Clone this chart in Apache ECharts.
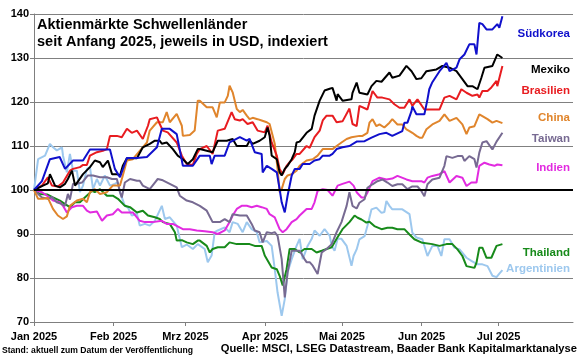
<!DOCTYPE html>
<html><head><meta charset="utf-8">
<script src="https://cdn.jsdelivr.net/npm/echarts/dist/echarts.min.js"></script>
<style>html,body{margin:0;padding:0;background:#fff}#c{width:580px;height:358px}</style>
</head><body><div id="c"></div>
<script>
// x values: days since 1 Jan 2025; y values: index (start = 100)
const monthDays = [0, 31, 59, 90, 120, 151, 181];
const monthLabels = ['Jan 2025','Feb 2025','Mrz 2025','Apr 2025','Mai 2025','Jun 2025','Jul 2025'];
const yTicks = [70, 80, 90, 100, 110, 120, 130, 140];

const suedkorea = [[0,100],[3.1,102],[6.2,107],[10,107.5],[12.1,104.8],[15.2,106.7],[19.1,106.7],[21.8,109.2],[25.7,109.2],[29.6,109.2],[31.5,104.8],[33.5,102.9],[36.2,107.3],[40.1,107.3],[44,107.5],[47.9,109.7],[49.8,113.9],[52.9,113.9],[55.6,112.7],[58,105.5],[61.9,105.5],[64.6,107.8],[68.5,107.8],[69.2,105.9],[70.4,107.8],[74.3,107.8],[76.2,110.8],[80.2,112],[82.9,111.2],[84,111.6],[86,108.6],[88.7,108.2],[89.1,104],[90.7,105.5],[92.6,104.8],[94.6,104],[95.7,100.2],[96.5,97.2],[97.7,94.9],[98.8,98.7],[100.4,103.3],[101.6,104.8],[103.5,104.8],[104.7,105.9],[107.4,105.9],[109.3,106.7],[111.3,107],[112.5,107.8],[115.2,107.8],[116.3,108.2],[117.9,109.3],[120.2,109.7],[122.9,110],[125.7,111],[128.8,111.1],[131.5,111.9],[134.6,112.7],[137.3,113],[139.6,112.3],[143.5,113.4],[144.3,115.3],[145.5,115.3],[147.1,118],[147.4,119],[149,117.2],[152.1,117.2],[153.3,120.6],[154,122.9],[155.2,124.5],[158,127],[160.7,128.9],[161.9,127],[164.6,127.8],[165.8,129.7],[167.7,130.8],[169.6,133.1],[171.6,133.1],[172.4,130.8],[173.5,138],[174.7,137.7],[176.3,136.5],[178.6,136.5],[180.5,137.7],[181.3,136.9],[182.5,139.5]];
const mexiko = [[0,100],[3.5,101],[5.4,101.5],[6.2,103.6],[8.2,101],[10.1,100.6],[12.1,101.4],[13.2,102.5],[14.8,104.4],[16,101],[19.1,103.6],[21.8,105.2],[23.7,106.7],[25.7,106.3],[26.8,105.2],[28.8,106.7],[30.4,103.6],[32.3,103.6],[33.5,103.3],[34.6,105.5],[36.2,107.2],[40.1,107.2],[42.4,109.7],[45.1,110.5],[47.1,111.2],[49,111.2],[49.8,110.5],[51.7,110.8],[54.1,109.3],[56,107.8],[58,107],[59.9,105.9],[61.9,107],[63.8,109.3],[64.6,109.3],[69.6,108.6],[71.6,111.2],[75.1,111.2],[77.4,111.6],[79,110],[82.9,110],[84,111.2],[85.2,110.5],[87.9,111.2],[89.9,112],[91,114.2],[91.8,112.3],[92.6,107.8],[94.6,107],[95.7,104],[96.5,103.3],[97.7,104.8],[98.8,105.5],[100.4,107],[101.6,108.6],[102.3,110.8],[103.5,111],[106.2,113],[108.2,113.9],[109.3,116.9],[111.3,120.3],[113.2,122.6],[115.2,123],[116.3,123.2],[117.9,120.3],[118.3,121.8],[120.2,120.3],[123.7,120.6],[124.1,122.1],[125.7,124.4],[126.8,122.1],[129.9,121.7],[131.5,123.6],[133.4,124.8],[135.4,124.6],[138.5,126.7],[139.6,125.5],[142.4,126],[145.1,128.2],[147.1,127],[149,125.2],[150.9,125.4],[152.9,127],[156.8,127.4],[159.1,128.2],[161.9,127.8],[164.6,127],[166.9,125.2],[168.9,123.6],[170.8,123.6],[172.8,122.9],[174.3,125.5],[175.5,127.8],[178.6,128.2],[180.5,130.8],[182.5,130]];
const brasilien = [[0,100],[3.1,101],[5.4,102.9],[7,101],[9.3,100.8],[11.3,101.7],[14,104.4],[15.2,104.8],[17.9,105.2],[19.1,105.7],[20.6,105.7],[21.8,107.8],[24.5,108.6],[26.8,108.9],[28.4,109.3],[29.6,112.3],[32.3,112.3],[34.2,112],[36.2,113.9],[38.1,113],[40.1,113.5],[42.4,111.6],[44.4,114.6],[45.1,116.1],[47.9,116.5],[49,115],[50.2,113.5],[52.1,113.1],[55.6,110.8],[57.6,107.8],[59.5,105.9],[61.9,105.7],[63.4,108.2],[64.6,109.3],[67.3,110],[69.6,108.2],[71.6,113.5],[74.3,113.9],[77,117.7],[78.2,116.1],[80.2,115.8],[81.3,116.1],[83.2,115],[85.2,115.4],[87.1,113.5],[89.9,113.1],[91,114.6],[92.6,110.8],[94.6,107.8],[95.7,104.8],[96.9,103.6],[98.4,105.5],[99.6,106.3],[100.8,107],[102.3,108.2],[103.5,108.2],[106.2,110],[107.4,109.6],[109.3,112],[111.3,113.5],[112.5,115.8],[114,116.9],[116.3,116.9],[117.9,115.4],[120.2,115.6],[122.9,118.5],[124.1,115],[125.7,114.5],[126.8,119.1],[129.9,118.3],[131.9,122.5],[133.8,121],[135.7,121],[138.5,120.6],[140.4,119.5],[142.4,118.7],[144.3,118.7],[146.3,120.6],[147.4,119.1],[149.4,120.6],[152.1,118.3],[155.2,118.3],[158,118.3],[159.9,121],[161.9,121.4],[164.6,120.6],[166.5,122.9],[168.5,122.1],[170.8,121.4],[172.8,121.7],[173.5,121],[174.7,122.5],[176.7,122.5],[178.2,123.3],[180.2,124.8],[180.5,123.6],[182.5,128.2]];
const china = [[0,100],[1.6,98],[3.5,98],[5.4,98.2],[7.4,95.7],[9.3,94.2],[11.3,93.4],[12.8,94],[14,96.4],[16.7,97.6],[19.1,98],[20.6,97.2],[21.8,99.5],[23.7,100.2],[25.7,99.1],[28.4,99.5],[30.7,101],[33.5,101],[34.6,103.3],[36.2,106.7],[38.5,107],[41.2,108.9],[44,110.8],[45.1,113.5],[47.9,115.4],[50.2,115.4],[51.7,117.7],[52.9,115.4],[55.6,117.3],[57.6,114.6],[58,112.3],[60.7,112.5],[62.6,113.5],[63.8,120.3],[64.6,120.3],[67.3,118.8],[69.6,118.8],[71.2,116.5],[72.4,119.9],[74.3,119.9],[75.5,121.4],[76.2,123.7],[77.4,122.2],[79,118.4],[80.2,117.7],[81.3,118.2],[82.9,116.9],[84,116.1],[85.2,116.4],[87.1,116.1],[88.7,115.8],[90.7,115.4],[91.8,115],[93.8,110.5],[94.9,104.8],[95.7,99.5],[96.5,100.2],[97.7,102.5],[98.8,103.3],[100.4,103.6],[102.3,104.4],[103.5,105.5],[106.2,106.7],[108.6,107],[110.5,107.8],[112.5,109.3],[116.3,109.3],[117.9,110],[119.8,110.8],[121.8,111.6],[123.7,112],[126.8,112.3],[128,112.3],[129.9,113],[130.7,115.3],[131.9,116.1],[133.4,114.5],[134.6,114.9],[136.5,114.2],[138.5,115.3],[139.6,116.1],[141.6,114.9],[143.5,114.9],[145.1,113.8],[146.3,113.4],[147.4,113],[149,112.3],[150.2,111.9],[151.3,111.9],[152.9,113.8],[155.2,114.9],[158,115.7],[159.9,117.2],[161.9,115.7],[164.6,116.4],[166.9,114.9],[168.5,112.7],[169.6,114.2],[171.6,114.5],[173.5,117.2],[174.7,116.8],[176.7,116.1],[178.6,115.3],[180.2,115.7],[182.5,115.2]];
const taiwan = [[0,100],[3.1,98.3],[5.4,98],[7,98.4],[8.9,97.2],[10.9,96.8],[12.1,96.4],[13.2,99.1],[14,97.8],[15.2,101.4],[16.7,101.4],[18.7,101.7],[21,103.3],[23,103.3],[25.7,102.9],[28.4,102.9],[30.4,102.5],[32.3,102.5],[33.5,99.5],[34.2,98.3],[35.4,101.7],[37.4,102.5],[40.1,102.1],[41.2,102.1],[42.4,101],[45.1,100.2],[47.1,101.7],[48.2,102.5],[50.2,102.2],[52.9,101.4],[55.6,100.6],[56.8,98.7],[59.5,97.6],[61.9,97.2],[64.6,96.4],[67.3,95.3],[69.6,92.7],[72.4,92.7],[74.3,93.4],[76.2,92.7],[77.4,94.5],[80.2,94.2],[82.9,94.2],[84.8,92.3],[86,90.8],[87.9,90.4],[89.1,88.1],[90.7,90.4],[92.6,90.2],[93.8,90.4],[94.9,89.6],[96.5,84.3],[97.7,75.6],[98.8,81.3],[100.4,86.2],[102.3,86.2],[103.5,86.2],[105.4,84.3],[106.2,83.6],[107.4,83.6],[108.6,82.8],[110.5,80.9],[112.1,85.8],[114,86.6],[116,87.7],[117.9,90.4],[119.8,92.7],[121.8,96.4],[122.9,99.5],[124.1,96.4],[125.7,95.8],[126.8,97.1],[128.8,97.9],[129.9,100.5],[131.9,101.3],[133.8,102],[135.7,102.4],[137.7,101.7],[139.6,100.9],[141.6,101.3],[143.5,101.3],[145.5,100.2],[147.4,100.8],[149.4,100.8],[150.9,99.8],[152.1,98.6],[153.3,101.3],[155.2,102.4],[158,102.8],[159.9,105.5],[160.7,107.7],[163,107.3],[165,107.7],[166.9,107.7],[167.7,106.6],[169.6,107.7],[171.6,107],[172.4,105.1],[173.5,108.5],[174.7,110.8],[176.3,111.1],[178.6,109.2],[180.2,111],[182.5,113]];
const indien = [[0,100],[3.1,99.5],[5.1,98.7],[7.4,97.6],[10.1,97.2],[11.3,96.4],[12.8,94.9],[14.8,96.1],[16.7,96.4],[19.1,96.4],[20.6,95.3],[21.8,94.9],[24.5,95.1],[26.5,93],[28.4,94.2],[30.7,94.5],[32.7,95.7],[34.2,94.9],[37.4,94.9],[38.5,94.9],[41.2,93],[43.2,92.7],[46.3,92.7],[49.8,93],[51.7,92.3],[54.1,92.3],[58,91.1],[60.7,91.1],[63.4,90.8],[66.5,90.6],[69.6,90.4],[71.6,90],[74.3,90.8],[76.2,92.7],[77.4,94.2],[79,95.7],[80.9,96.4],[82.9,96.4],[84.8,96.1],[86.8,96.4],[88.7,96.1],[90.7,95.7],[91.8,94.5],[93.8,93.8],[95.7,91.1],[96.9,90.4],[98.4,91.1],[100.4,92.7],[102.3,93.4],[103.5,94.2],[106.2,95.7],[108.2,95.7],[109.3,97.2],[110.5,99.8],[112.5,100.2],[114.4,100],[116.3,98.7],[118.3,101],[120.2,101.4],[122.9,101.9],[124.5,101],[125.7,99.5],[127.6,98.3],[128.8,98.3],[129.9,99.4],[131.9,102],[134.6,102.8],[137.3,102.4],[139.6,102.6],[141.6,103.2],[145.1,102.4],[147.4,102],[150.9,102],[152.1,101.7],[153.3,102.8],[155.2,103.2],[158,103.6],[159.9,104.3],[161.9,101.7],[164.6,103.2],[166.9,102.8],[168.5,100.9],[170.4,101.7],[172.4,101.7],[173.5,105.5],[175.5,106.2],[177.4,105.8],[179.4,105.5],[180.5,105.8],[182.5,105.6]];
const thailand = [[0,100],[2.3,99.1],[5.1,99],[7.4,98.3],[10.1,97.6],[12.1,96.8],[14,96.1],[16,97.2],[17.9,97.2],[19.8,98.3],[22.6,99.8],[23.7,99.5],[25.7,100.2],[28.4,98.7],[30.7,98.7],[32.7,98],[35.4,96.4],[37.4,96.1],[40.1,94.9],[42.4,95.3],[44.4,94.2],[47.1,93.8],[49,93.4],[50.2,92.7],[52.9,92.3],[54.9,90.4],[55.6,88.5],[57.6,88.6],[59.5,88.1],[61.9,87.7],[63.8,88.5],[64.6,88.5],[67.3,87.3],[68.5,85.8],[69.6,86.6],[71.6,87],[74.3,87],[76.2,88.1],[79,87.7],[81.3,87.7],[84,87.7],[86,87.3],[88.7,87.3],[89.9,85.1],[92.6,82.4],[94.6,82],[95.7,80.5],[96.9,78.3],[98.4,82],[99.6,86.6],[101.6,86.6],[103.5,85.8],[105.4,86.6],[108.2,86.6],[110.1,85.8],[112.1,86.2],[114,86.6],[116,87],[117.9,88.9],[120.2,91.1],[122.9,92.7],[124.9,94.2],[126.1,93.7],[127.6,93.3],[129.5,92.6],[130.7,92.8],[132.6,91.8],[135.4,91.1],[137.7,91.4],[139.6,91.4],[141.6,91.1],[144.3,91.1],[146.3,89.9],[148.2,88.8],[151.3,88],[155.2,87.7],[158,87.3],[160.7,87.7],[163,87.7],[165,86.5],[166.9,85],[168.5,82.7],[171.6,82.3],[172.4,83.5],[173.5,86.9],[174.7,86.9],[176.3,84.6],[178.2,84.6],[180.2,87.3],[182.5,87.7]];
const argentinien = [[0,100],[1.6,107],[4.3,107.8],[6.2,110.5],[7.4,109.7],[8.9,109],[10.9,109.7],[11.3,107.8],[12.8,104],[14,108.2],[15.2,104.4],[16.7,104.4],[17.9,99.5],[19.1,101],[20.6,104.8],[21.8,105.2],[23,100.2],[24.5,102.5],[25.7,101],[27.6,103.3],[29.6,101],[31.5,101.4],[32.7,101.8],[33.5,99.5],[35.4,96.4],[36.6,96],[38.1,94.2],[40.1,94.6],[41.2,91.9],[43.2,92.3],[45.1,91.9],[47.1,93],[49.8,96.4],[51,93.4],[52.9,93.8],[55.6,91.9],[57.6,87],[59.5,87.6],[61.9,86.6],[63.8,87.7],[66.5,86.6],[67.7,83.6],[69.2,85.1],[70.4,90.4],[71.6,90.8],[74.3,91.5],[76.2,90.4],[77.4,92.7],[79.4,92.3],[81.3,90.4],[82.9,92.7],[84.8,91.1],[86.8,90.4],[87.9,88.1],[90.7,88.4],[92.6,87.3],[93.8,82],[94.9,76.7],[96.5,71.4],[97.7,75.2],[98.8,81.3],[100.4,84.3],[102.3,87.3],[103.5,88.9],[104.7,84.3],[106.6,87.3],[108.2,88.9],[109.3,90.8],[111.3,89.6],[113.2,91.1],[115.2,89.6],[116,87.3],[117.1,86.2],[118.3,88.9],[119.8,88.9],[121.8,87.3],[123.7,82.8],[124.5,85],[125.7,86.5],[126.8,88.8],[128.8,89.5],[129.9,91.8],[131.5,95.6],[133.4,96],[135.4,94.8],[136.5,95],[137.3,97.5],[138.5,96.4],[139.6,95.6],[142.4,95.6],[143.5,95.6],[146.3,94.5],[147.4,90.3],[149,89.2],[151.3,88.8],[153.3,85],[155.2,87.3],[157.2,87.3],[158.7,85],[159.9,88.8],[161.9,88.8],[163.8,86.9],[165.8,86.5],[168.5,84.6],[170.4,83.9],[172.8,83.1],[174.7,83.1],[176.7,82.7],[178.6,80.5],[180.2,80.2],[181.3,81],[182.5,81.8]];

const seriesDefs = [
  {name:'Argentinien', data:argentinien, color:'#9DC8EE', label:{y:269}},
  {name:'Thailand', data:thailand, color:'#178A1A', label:{y:253}},
  {name:'Indien', data:indien, color:'#E22BE0', label:{y:168}},
  {name:'Taiwan', data:taiwan, color:'#776A92', label:{y:139}},
  {name:'China', data:china, color:'#E0852C', label:{y:118}},
  {name:'Brasilien', data:brasilien, color:'#E81C20', label:{y:91}},
  {name:'Mexiko', data:mexiko, color:'#000000', label:{y:70}},
  {name:'Südkorea', data:suedkorea, color:'#1010CC', label:{y:34}}
];

const chart = echarts.init(document.getElementById('c'), null, {renderer:'canvas'});
const series = seriesDefs.map(s => ({
  type:'line', name:s.name, data:s.data, showSymbol:false, symbol:'none',
  lineStyle:{color:s.color, width:2}, itemStyle:{color:s.color}, animation:false
}));
series[0].markLine = {
  silent:true, symbol:'none', animation:false, label:{show:false},
  lineStyle:{color:'#000', width:2, type:'solid'},
  data:[{yAxis:100}]
};

const graphics = [
  {type:'text', left:37, top:17, z:100, style:{text:'Aktienmärkte Schwellenländer\nseit Anfang 2025, jeweils in USD, indexiert', font:'bold 14.5px Arial', lineHeight:16.5, fill:'#000'}},
  {type:'text', left:2, top:346, style:{text:'Stand: aktuell zum Datum der Veröffentlichung', font:'bold 8.6px Arial', fill:'#000'}},
  {type:'text', right:3, top:343, style:{text:'Quelle: MSCI, LSEG Datastream, Baader Bank Kapitalmarktanalyse', font:'bold 11.2px Arial', fill:'#000'}}
];
seriesDefs.forEach(s => {
  graphics.push({type:'text', x:570, y:s.label.y, z:100, style:{text:s.name, font:'bold 11.5px Arial', fill:s.color, align:'right', verticalAlign:'middle'}});
});

chart.setOption({
  backgroundColor:'#fff',
  animation:false,
  grid:{left:34, right:7, top:14, bottom:36, containLabel:false},
  xAxis:{
    type:'value', min:0, max:210,
    axisLine:{show:true, lineStyle:{color:'#7f7f7f', width:1}},
    axisTick:{show:true, customValues:monthDays, length:4, lineStyle:{color:'#7f7f7f'}},
    axisLabel:{customValues:monthDays, formatter:(v)=>monthLabels[monthDays.indexOf(v)],
      color:'#000', fontWeight:'bold', fontSize:11, fontFamily:'Arial', margin:9},
    splitLine:{show:false}
  },
  yAxis:{
    type:'value', min:yTicks[0], max:yTicks[yTicks.length-1], interval:10,
    axisLine:{show:true, lineStyle:{color:'#7f7f7f', width:1}},
    axisTick:{show:true, length:4, lineStyle:{color:'#7f7f7f'}},
    axisLabel:{color:'#000', fontWeight:'bold', fontSize:11, fontFamily:'Arial', margin:5},
    splitLine:{show:true, lineStyle:{color:'#808080', width:1}}
  },
  series: series,
  graphic: graphics
});
</script></body></html>
